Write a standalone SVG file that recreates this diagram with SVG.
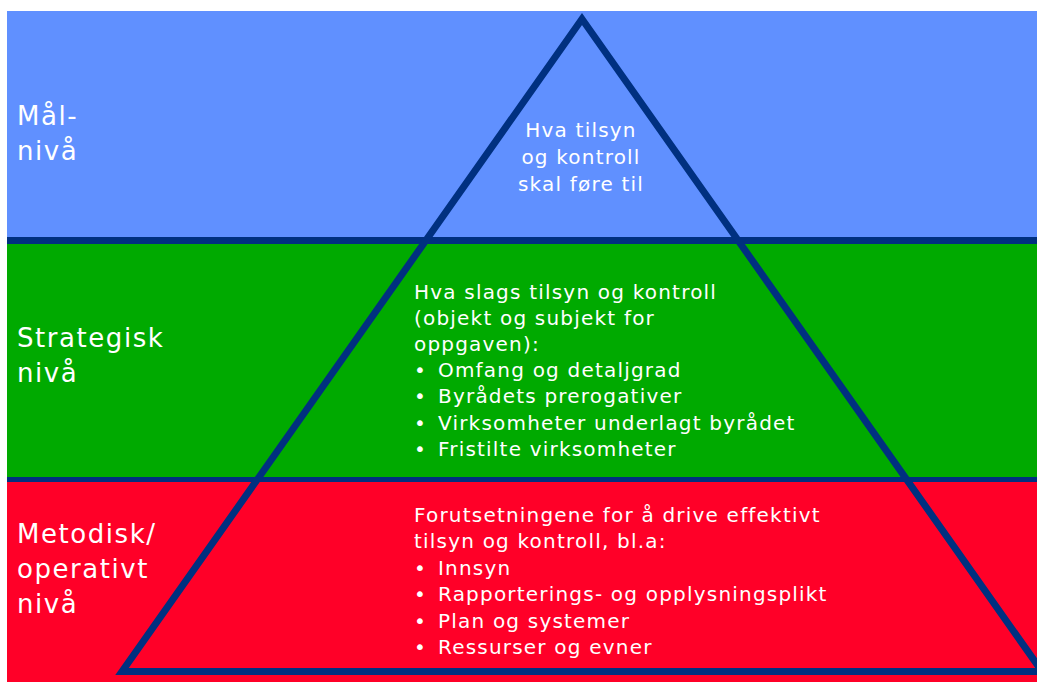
<svg xmlns="http://www.w3.org/2000/svg" width="1037" height="682" viewBox="0 0 1037 682">
  <style>
    .t { font-family: "DejaVu Sans", Verdana, sans-serif; fill: #ffffff; letter-spacing: 0.06em; }
    .lvl { font-size: 26px; }
    .body { font-size: 20px; }
    .mid { text-anchor: middle; }
  </style>
  <!-- level bands -->
  <g id="bands">
    <rect x="7" y="11" width="1030" height="230" fill="#6090ff"/>
    <rect x="7" y="241" width="1030" height="239" fill="#00aa00"/>
    <rect x="7" y="480" width="1030" height="202" fill="#ff0028"/>
    <rect x="7" y="237" width="1030" height="7" fill="#003080"/>
    <rect x="7" y="477" width="1030" height="5" fill="#003080"/>
  </g>
  <!-- pyramid outline -->
  <g id="pyramid">
    <polygon points="582,19 122,671.5 1042,671.5" fill="none" stroke="#003080" stroke-width="7" stroke-linejoin="miter" stroke-miterlimit="10"/>
  </g>
  <!-- level labels -->
  <g id="label-maal" class="t lvl">
    <text x="17" y="125">Mål-</text>
    <text x="17" y="160">nivå</text>
  </g>
  <g id="label-strategisk" class="t lvl">
    <text x="17" y="347">Strategisk</text>
    <text x="17" y="382">nivå</text>
  </g>
  <g id="label-metodisk" class="t lvl">
    <text x="17" y="543">Metodisk/</text>
    <text x="17" y="578">operativt</text>
    <text x="17" y="613">nivå</text>
  </g>
  <!-- goal level content -->
  <g id="content-maal" class="t body mid">
    <text x="581" y="137">Hva tilsyn</text>
    <text x="581" y="164">og kontroll</text>
    <text x="581" y="191">skal føre til</text>
  </g>
  <!-- strategic level content -->
  <g id="content-strategisk" class="t body">
    <text x="414" y="299">Hva slags tilsyn og kontroll</text>
    <text x="414" y="325">(objekt og subjekt for</text>
    <text x="414" y="351">oppgaven):</text>
    <text x="414" y="377">•</text><text x="438" y="377">Omfang og detaljgrad</text>
    <text x="414" y="403">•</text><text x="438" y="403">Byrådets prerogativer</text>
    <text x="414" y="430">•</text><text x="438" y="430">Virksomheter underlagt byrådet</text>
    <text x="414" y="456">•</text><text x="438" y="456">Fristilte virksomheter</text>
  </g>
  <!-- operational level content -->
  <g id="content-metodisk" class="t body">
    <text x="414" y="522">Forutsetningene for å drive effektivt</text>
    <text x="414" y="548">tilsyn og kontroll, bl.a:</text>
    <text x="414" y="575">•</text><text x="438" y="575">Innsyn</text>
    <text x="414" y="601">•</text><text x="438" y="601">Rapporterings- og opplysningsplikt</text>
    <text x="414" y="628">•</text><text x="438" y="628">Plan og systemer</text>
    <text x="414" y="654">•</text><text x="438" y="654">Ressurser og evner</text>
  </g>
</svg>
